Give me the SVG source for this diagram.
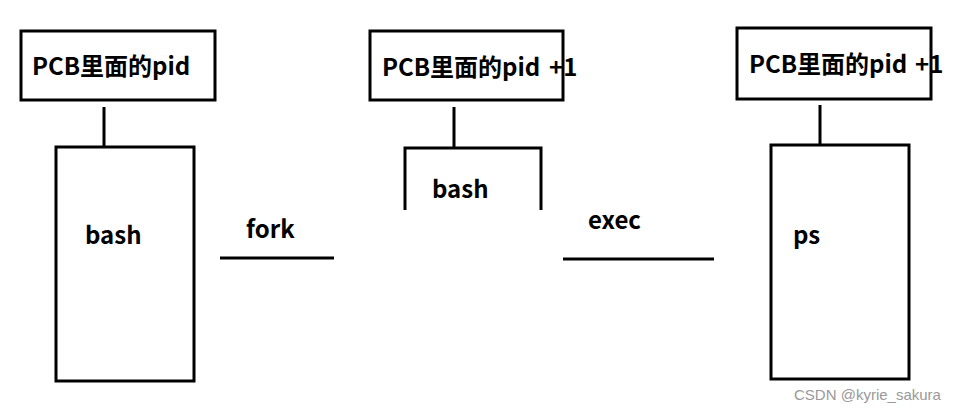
<svg xmlns="http://www.w3.org/2000/svg" width="973" height="414" viewBox="0 0 973 414">
<style>
.b{fill:none;stroke:#000;stroke-width:3}
.t{font-family:"Noto Sans CJK SC","Noto Sans",sans-serif;font-weight:bold;font-size:24px;fill:#000}
.w{font-family:"Liberation Sans",Arial,sans-serif;font-size:15px;fill:#999}
</style>
<rect width="973" height="414" fill="#fff"/>
<g id="pcb1"><rect class="b" x="21" y="31" width="194" height="69"/><text class="t" x="32" y="75">PCB里面的pid</text></g>
<g id="pcb2"><rect class="b" x="370" y="31" width="193" height="69"/><text class="t" x="382" y="76">PCB里面的pid <tspan x="549">+1</tspan></text></g>
<g id="pcb3"><rect class="b" x="737" y="28" width="194" height="71"/><text class="t" x="749" y="73">PCB里面的pid <tspan x="915">+1</tspan></text></g>
<g id="proc1"><rect class="b" x="56" y="147" width="138" height="234"/><text class="t" x="85" y="244">bash</text></g>
<g id="proc2"><path class="b" d="M405 210V148H541V210"/><text class="t" x="432" y="198">bash</text></g>
<g id="proc3"><rect class="b" x="771" y="145" width="138" height="234"/><text class="t" x="793" y="244">ps</text></g>
<g id="connectors">
<path class="b" d="M104 107V147M454 107V148M820 105V145"/>
<path class="b" d="M220 258H334M563 259H714"/>
<text class="t" x="246" y="238">fork</text>
<text class="t" x="588" y="229">exec</text>
</g>
<text class="w" x="794" y="400">CSDN @kyrie_sakura</text>
</svg>
